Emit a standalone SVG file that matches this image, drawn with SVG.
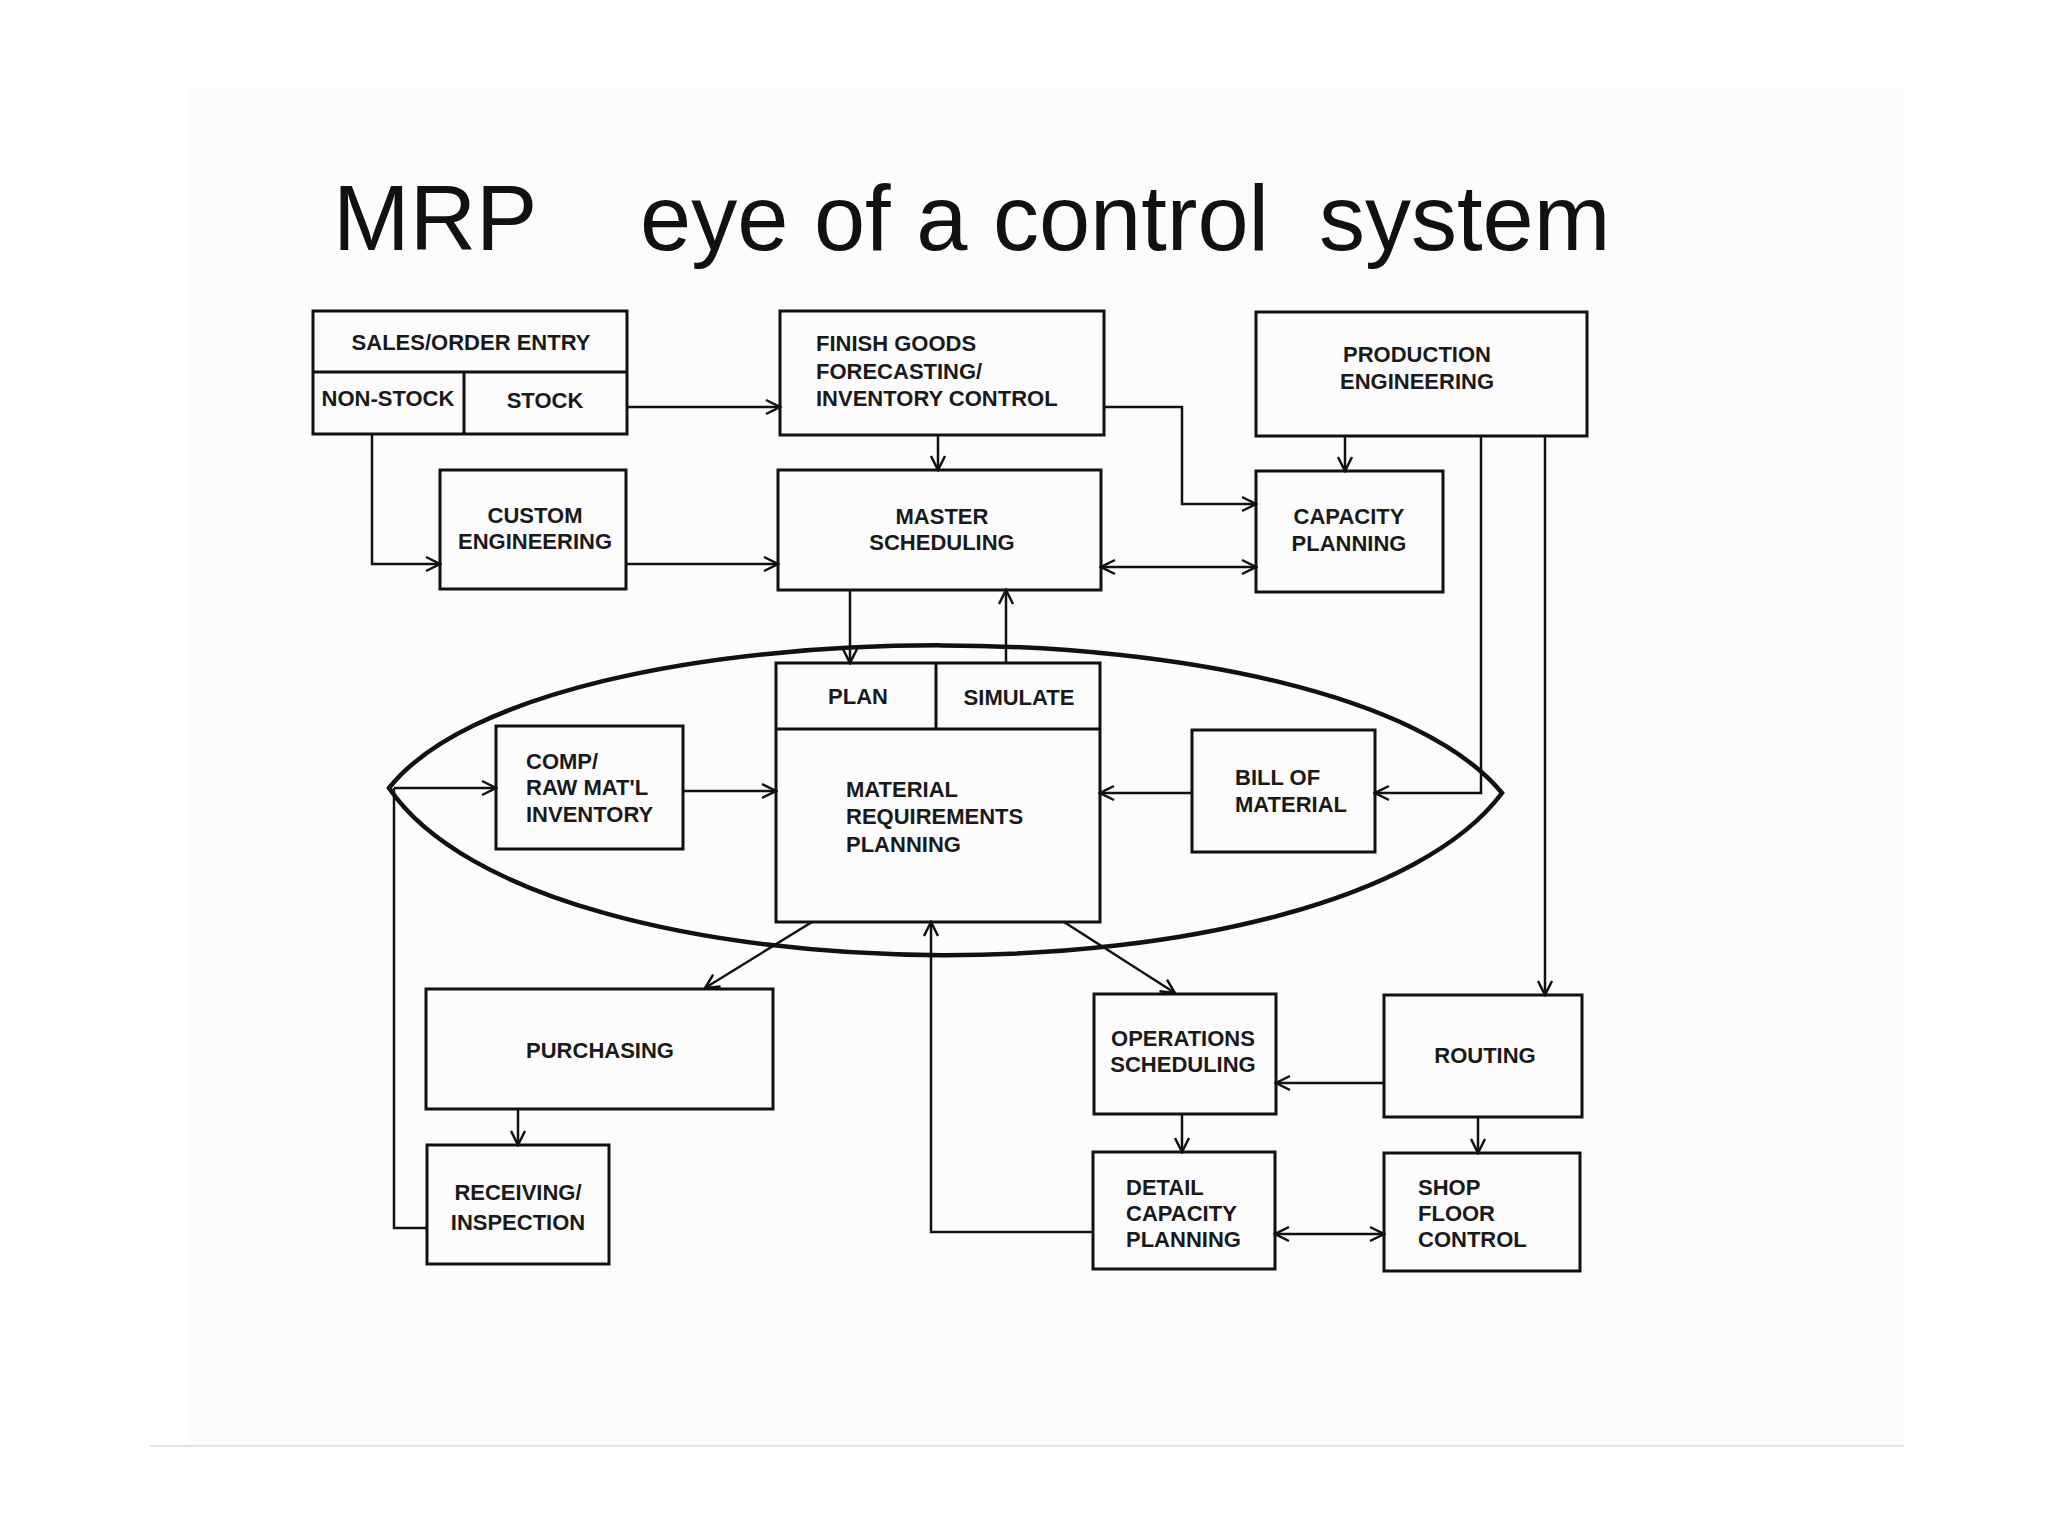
<svg xmlns="http://www.w3.org/2000/svg" width="2048" height="1536" viewBox="0 0 2048 1536">
<defs>
<marker id="ah" viewBox="0 0 18 18" refX="16" refY="9" markerWidth="18" markerHeight="18" orient="auto-start-reverse" markerUnits="userSpaceOnUse">
<path d="M2,2 L16,9 L2,16" fill="none" stroke="#111" stroke-width="2.5"/>
</marker>
<style>
.box{fill:none;stroke:#111;stroke-width:3}
.lbl{font-family:"Liberation Sans",Arial,sans-serif;font-weight:bold;font-size:22px;fill:#1a1a1a}
.c{text-anchor:middle}
.con{fill:none;stroke:#111;stroke-width:2.5}
.eye{fill:none;stroke:#111;stroke-width:4.5;stroke-linejoin:miter}
.arr{marker-end:url(#ah)}
.both{marker-start:url(#ah);marker-end:url(#ah)}
.title{font-family:"Liberation Sans",Arial,sans-serif;font-size:92px;fill:#111}
</style>
</defs>
<rect width="2048" height="1536" fill="#fff"/>
<rect x="189" y="89" width="1715" height="1357" fill="#fcfcfc"/>
<line x1="150" y1="1446" x2="1904" y2="1446" stroke="#e4e4e4" stroke-width="2"/>

<text class="title" y="250"><tspan x="333">MRP</tspan><tspan x="640">eye of a control</tspan><tspan x="1319">system</tspan></text>

<g id="connectors">
<path class="eye" d="M389,788 C540,598 1340,596 1502,793 C1340,1010 540,1010 389,788 Z"/>
<path class="con arr" d="M627,407 H780"/>
<path class="con arr" d="M372,434 V564 H440"/>
<path class="con arr" d="M626,564 H778"/>
<path class="con arr" d="M938,435 V470"/>
<path class="con arr" d="M1104,407 H1182 V504 H1256"/>
<path class="con both" d="M1101,567 H1256"/>
<path class="con arr" d="M1345,436 V471"/>
<path class="con arr" d="M1481,436 V793 H1375"/>
<path class="con arr" d="M1545,436 V995"/>
<path class="con arr" d="M850,590 V663"/>
<path class="con arr" d="M1006,663 V590"/>
<path class="con arr" d="M394,788 H496"/>
<path class="con arr" d="M683,791 H776"/>
<path class="con arr" d="M1192,793 H1100"/>
<path class="con" d="M427,1228 H394 V788"/>
<path class="con arr" d="M812,922 L705,988"/>
<path class="con arr" d="M1064,922 L1175,993"/>
<path class="con arr" d="M1093,1232 H931 V922"/>
<path class="con arr" d="M1384,1083 H1276"/>
<path class="con arr" d="M1182,1114 V1152"/>
<path class="con arr" d="M1478,1117 V1153"/>
<path class="con both" d="M1275,1234 H1384"/>
<path class="con arr" d="M518,1109 V1145"/>
</g>

<g id="sales-order-entry">
<rect class="box" x="313" y="311" width="314" height="123"/>
<line class="box" x1="313" y1="372" x2="627" y2="372"/>
<line class="box" x1="464" y1="372" x2="464" y2="434"/>
<text class="lbl c" x="471" y="350">SALES/ORDER ENTRY</text>
<text class="lbl c" x="388" y="406">NON-STOCK</text>
<text class="lbl c" x="545" y="408">STOCK</text>
</g>

<g id="finish-goods">
<rect class="box" x="780" y="311" width="324" height="124"/>
<text class="lbl" x="816" y="351">FINISH GOODS</text>
<text class="lbl" x="816" y="379">FORECASTING/</text>
<text class="lbl" x="816" y="406">INVENTORY CONTROL</text>
</g>

<g id="production-engineering">
<rect class="box" x="1256" y="312" width="331" height="124"/>
<text class="lbl c" x="1417" y="362">PRODUCTION</text>
<text class="lbl c" x="1417" y="389">ENGINEERING</text>
</g>

<g id="custom-engineering">
<rect class="box" x="440" y="470" width="186" height="119"/>
<text class="lbl c" x="535" y="523">CUSTOM</text>
<text class="lbl c" x="535" y="549">ENGINEERING</text>
</g>

<g id="master-scheduling">
<rect class="box" x="778" y="470" width="323" height="120"/>
<text class="lbl c" x="942" y="524">MASTER</text>
<text class="lbl c" x="942" y="550">SCHEDULING</text>
</g>

<g id="capacity-planning">
<rect class="box" x="1256" y="471" width="187" height="121"/>
<text class="lbl c" x="1349" y="524">CAPACITY</text>
<text class="lbl c" x="1349" y="551">PLANNING</text>
</g>

<g id="mrp">
<rect class="box" x="776" y="663" width="324" height="259"/>
<line class="box" x1="776" y1="729" x2="1100" y2="729"/>
<line class="box" x1="936" y1="663" x2="936" y2="729"/>
<text class="lbl c" x="858" y="704">PLAN</text>
<text class="lbl c" x="1019" y="705">SIMULATE</text>
<text class="lbl" x="846" y="797">MATERIAL</text>
<text class="lbl" x="846" y="824">REQUIREMENTS</text>
<text class="lbl" x="846" y="852">PLANNING</text>
</g>

<g id="comp-inventory">
<rect class="box" x="496" y="726" width="187" height="123"/>
<text class="lbl" x="526" y="769">COMP/</text>
<text class="lbl" x="526" y="795">RAW MAT'L</text>
<text class="lbl" x="526" y="822">INVENTORY</text>
</g>

<g id="bill-of-material">
<rect class="box" x="1192" y="730" width="183" height="122"/>
<text class="lbl" x="1235" y="785">BILL OF</text>
<text class="lbl" x="1235" y="812">MATERIAL</text>
</g>

<g id="purchasing">
<rect class="box" x="426" y="989" width="347" height="120"/>
<text class="lbl c" x="600" y="1058">PURCHASING</text>
</g>

<g id="receiving-inspection">
<rect class="box" x="427" y="1145" width="182" height="119"/>
<text class="lbl c" x="518" y="1200">RECEIVING/</text>
<text class="lbl c" x="518" y="1230">INSPECTION</text>
</g>

<g id="operations-scheduling">
<rect class="box" x="1094" y="994" width="182" height="120"/>
<text class="lbl c" x="1183" y="1046">OPERATIONS</text>
<text class="lbl c" x="1183" y="1072">SCHEDULING</text>
</g>

<g id="routing">
<rect class="box" x="1384" y="995" width="198" height="122"/>
<text class="lbl c" x="1485" y="1063">ROUTING</text>
</g>

<g id="detail-capacity-planning">
<rect class="box" x="1093" y="1152" width="182" height="117"/>
<text class="lbl" x="1126" y="1195">DETAIL</text>
<text class="lbl" x="1126" y="1221">CAPACITY</text>
<text class="lbl" x="1126" y="1247">PLANNING</text>
</g>

<g id="shop-floor-control">
<rect class="box" x="1384" y="1153" width="196" height="118"/>
<text class="lbl" x="1418" y="1195">SHOP</text>
<text class="lbl" x="1418" y="1221">FLOOR</text>
<text class="lbl" x="1418" y="1247">CONTROL</text>
</g>
</svg>
